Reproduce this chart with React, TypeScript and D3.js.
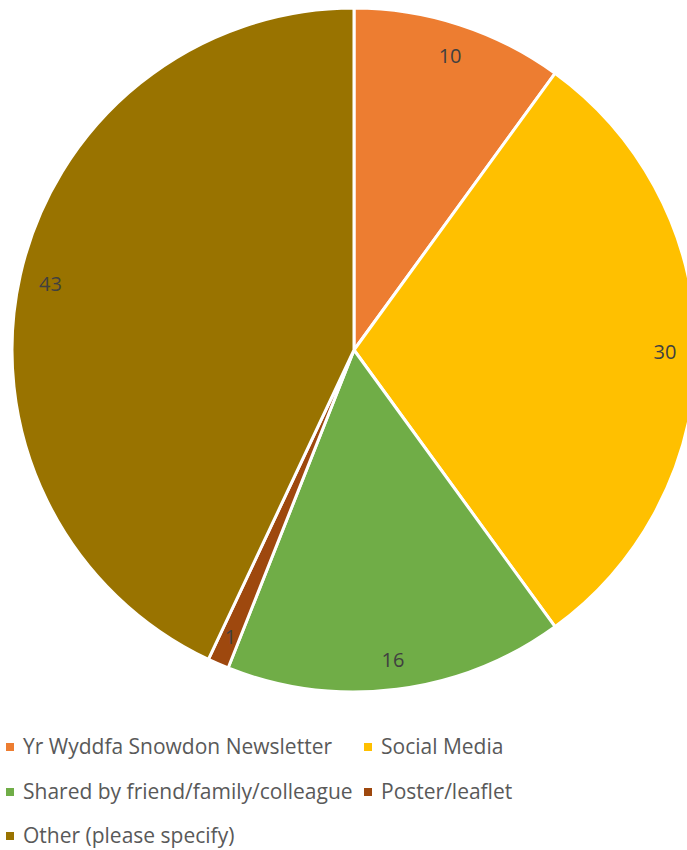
import React from 'react';
import * as d3 from 'd3';

const categories = [
  'Yr Wyddfa Snowdon Newsletter',
  'Social Media',
  'Shared by friend/family/colleague',
  'Poster/leaflet',
  'Other (please specify)',
];
const values = [10, 30, 16, 1, 43];
const colors = ['#ED7D31', '#FFC000', '#70AD47', '#9E480E', '#997300'];

const W = 687;
const H = 850;
const cx = 354;
const cy = 350;
const radius = 342;
const labelR = 311;
const font = "'Open Sans', sans-serif";

export default function App() {
  const pie = d3.pie<number>().sort(null).value(d => d);
  const arcs = pie(values);
  const arc = d3.arc<d3.PieArcDatum<number>>().innerRadius(0).outerRadius(radius);
  const labelArc = d3.arc<d3.PieArcDatum<number>>().innerRadius(labelR).outerRadius(labelR);

  // legend layout: two columns, three rows
  const colX = [9, 367];
  const rowY = [746, 791, 835];

  return (
    <svg width={W} height={H} style={{ position: 'absolute', left: 0, top: 0 }}>
      <g transform={`translate(${cx},${cy})`}>
        {arcs.map((a, i) => (
          <path key={i} d={arc(a) || ''} fill={colors[i]} stroke="#fff" strokeWidth={3} strokeLinejoin="round" />
        ))}
        {arcs.map((a, i) => {
          const [x, y] = labelArc.centroid(a);
          return (
            <text key={i} x={x} y={y + 1} textAnchor="middle" dominantBaseline="central"
              fontFamily={font} fontSize={20} fill="#404040">
              {values[i]}
            </text>
          );
        })}
      </g>
      {categories.map((c, i) => {
        const x = colX[i % 2];
        const y = rowY[Math.floor(i / 2)];
        return (
          <g key={c}>
            <rect x={x - 3} y={y - 3} width={8} height={8} fill={colors[i]} />
            <text x={x + 14} y={y} dominantBaseline="central" fontFamily={font} fontSize={21} fill="#595959">
              {c}
            </text>
          </g>
        );
      })}
    </svg>
  );
}
